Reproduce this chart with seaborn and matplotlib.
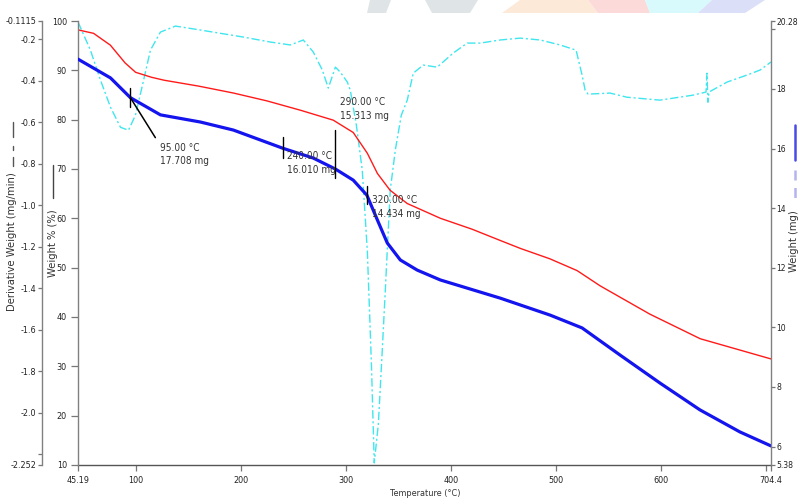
# TGA curve: weight %, weight mg and derivative weight vs temperature

import matplotlib
matplotlib.use("Agg")
import matplotlib.pyplot as plt
import seaborn as sns
from matplotlib import font_manager as fm
from matplotlib.patches import Polygon
from matplotlib.lines import Line2D

# weight % (red, inner left axis)
temp_pct = [45.2, 60, 76, 90, 100, 115, 127, 160, 193, 225, 257, 288, 307, 320.4,
            330, 342, 358.4, 390, 420, 447, 466, 494, 520, 542, 589, 637, 704.4]
weight_pct = [98.2, 97.5, 95.1, 91.5, 89.6, 88.6, 88.0, 86.8, 85.4, 83.8, 81.9, 79.9,
              77.4, 73.2, 69.1, 65.7, 63.0, 60.0, 57.8, 55.5, 53.9, 51.8, 49.4, 46.3,
              40.6, 35.6, 31.5]

# weight mg (blue, right axis)
temp_mg = [45.2, 76.1, 95, 123.6, 161.6, 193, 240, 269, 290, 307, 320, 330, 339.4,
           351.8, 367.9, 389.8, 446.8, 494.3, 524.7, 560.8, 598.8, 636.8, 674.8, 704.4]
weight_mg = [19.00, 18.37, 17.708, 17.13, 16.89, 16.62, 16.01, 15.68, 15.313, 14.94,
             14.434, 13.60, 12.83, 12.26, 11.92, 11.59, 10.98, 10.41, 9.98, 9.07, 8.13,
             7.23, 6.49, 6.02]

# derivative weight (cyan, outer left axis)
temp_deriv = [45.2, 57, 66.6, 76.1, 85.6, 93.2, 99.8, 106.5, 114.1, 123.6, 137.9, 161.6,
              202.5, 228.2, 247.2, 259.5, 269, 277.6, 283.3, 290, 294.7, 301.4, 304.2,
              310, 315.6, 320.4, 324.2, 327, 330.9, 334.6, 337.5, 342.2, 347, 352.7,
              358.4, 364.1, 373.6, 386.9, 402.1, 415.4, 427.8, 446.8, 465.8, 484.8,
              503.8, 519, 521.9, 524.7, 527.6, 530.4, 551.3, 567.5, 598.8, 630.2,
              642.6, 643.5, 644.4, 645.4, 662.6, 681.6, 694, 704.4]
deriv = [-0.116, -0.252, -0.397, -0.527, -0.624, -0.638, -0.566, -0.421, -0.252, -0.165,
         -0.136, -0.155, -0.189, -0.213, -0.227, -0.203, -0.261, -0.348, -0.435, -0.334,
         -0.358, -0.406, -0.445, -0.614, -0.831, -1.218, -1.749, -2.242, -2.054, -1.701,
         -1.411, -0.928, -0.735, -0.566, -0.493, -0.363, -0.324, -0.334, -0.266, -0.218,
         -0.218, -0.203, -0.194, -0.203, -0.227, -0.252, -0.314, -0.372, -0.445, -0.464,
         -0.459, -0.479, -0.493, -0.469, -0.454, -0.363, -0.503, -0.454, -0.406, -0.372,
         -0.348, -0.309]

# annotations on the mg curve
ann_temp = [95, 240, 290, 320]
ann_mg = [17.708, 16.010, 15.313, 14.434]
ann_text = ["95.00 °C\n17.708 mg", "240.00 °C\n16.010 mg",
            "290.00 °C\n15.313 mg", "320.00 °C\n14.434 mg"]

x_ticks = [45.19, 100, 200, 300, 400, 500, 600, 700, 704.4]
x_labels = ["45.19", "100", "200", "300", "400", "500", "600", "", "704.4"]
pct_ticks = [10, 20, 30, 40, 50, 60, 70, 80, 90, 100]
pct_labels = ["10", "20", "30", "40", "50", "60", "70", "80", "90", "100"]
mg_ticks = [5.38, 6, 8, 10, 12, 14, 16, 18, 20, 20.28]
mg_labels = ["5.38", "6", "8", "10", "12", "14", "16", "18", "", "20.28"]
d_ticks = [-0.1115, -0.2, -0.4, -0.6, -0.8, -1.0, -1.2, -1.4, -1.6, -1.8, -2.0, -2.2, -2.252]
d_labels = ["-0.1115", "-0.2", "-0.4", "-0.6", "-0.8", "-1.0", "-1.2", "-1.4", "-1.6",
            "-1.8", "-2.0", "", "-2.252"]

sns.set_style("white")

# the instrument software uses a narrow sans; take one if there is any
narrow = [f for f in fm.fontManager.ttflist
          if any(k in f.fname for k in ("Narrow", "Condensed"))
          and not any(k in f.fname for k in ("Bold", "Italic", "Oblique", "Light", "Semi"))]
if narrow:
    plt.rcParams["font.family"] = [narrow[0].name, "DejaVu Sans"]
    plt.rcParams["font.stretch"] = narrow[0].stretch
    fs_tick, fs_ann, fs_lab = 6.5, 7.2, 8
else:
    plt.rcParams["font.family"] = ["Liberation Sans", "DejaVu Sans"]
    fs_tick, fs_ann, fs_lab = 6.2, 7, 7.3

W, H = 798, 501
fig = plt.figure(figsize=(W / 100, H / 100), dpi=100)
ax = fig.add_axes([78 / W, 1 - 465 / H, (771 - 78) / W, (465 - 21) / H])
ax_pct = ax.twinx()
ax_mg = ax.twinx()

# faint logo watermark along the top edge
marks = [
    ([(370, 0), (391, 0), (386, 13), (367, 13)], "#dfe4e7"),
    ([(425, 0), (478, 0), (470, 13), (432, 13)], "#dfe4e7"),
    ([(520, 0), (588, 0), (598, 13), (502, 13)], "#fde9d8"),
    ([(588, 0), (645, 0), (650, 13), (598, 13)], "#fddada"),
    ([(645, 0), (712, 0), (698, 13), (650, 13)], "#d8fafc"),
    ([(712, 0), (765, 0), (745, 13), (698, 13)], "#dcdff8"),
]
for pts, c in marks:
    fig.patches.append(Polygon([(px / W, 1 - py / H) for px, py in pts], closed=True,
                               transform=fig.transFigure, facecolor=c, edgecolor="none",
                               zorder=0))

sns.lineplot(x=temp_deriv, y=deriv, ax=ax, color="#3fe6ee", linewidth=1.0,
             linestyle=(0, (6, 2, 1.5, 2)), sort=False, estimator=None)
sns.lineplot(x=temp_pct, y=weight_pct, ax=ax_pct, color="#ff1a1a", linewidth=1.0,
             sort=False, estimator=None)
sns.lineplot(x=temp_mg, y=weight_mg, ax=ax_mg, color="#1414ee", linewidth=2.3,
             sort=False, estimator=None)

ax.set_xlim(45.19, 704.4)
ax.set_ylim(-2.252, -0.1115)
ax_pct.set_ylim(10, 100)
ax_mg.set_ylim(5.38, 20.28)

tick_kw = dict(labelcolor="#222222", color="#777777", width=0.9)
ax.set_xticks(x_ticks, x_labels)
ax.tick_params(axis="x", direction="out", length=4, pad=4, bottom=True,
               labelsize=fs_tick, **tick_kw)
ax.set_yticks(d_ticks, d_labels)
ax.tick_params(axis="y", direction="out", length=3, pad=1, left=True,
               labelsize=fs_tick, **tick_kw)
ax.spines["left"].set_position(("axes", -36 / 693))

ax_pct.yaxis.tick_left()
ax_pct.set_yticks(pct_ticks, pct_labels)
ax_pct.tick_params(axis="y", direction="out", length=5, pad=3, left=True, right=False,
                   labelsize=fs_tick, **tick_kw)
ax_mg.set_yticks(mg_ticks, mg_labels)
ax_mg.tick_params(axis="y", direction="out", length=3, pad=1, right=True,
                  labelsize=fs_tick - 0.4, **tick_kw)

for a in (ax, ax_pct, ax_mg):
    a.set_xlabel("")
    a.set_ylabel("")
    for s in a.spines.values():
        s.set_visible(False)
        s.set_color("#808080")
        s.set_linewidth(1.0)
ax.spines["left"].set_visible(True)
ax.spines["bottom"].set_visible(True)
ax.spines["bottom"].set_color("#555555")
ax_pct.spines["left"].set_visible(True)
ax_mg.spines["right"].set_visible(True)

# event markers
offsets = [(30, -45), (4, -3), (5, 72), (5, 0)]
for t, m, txt, off in zip(ann_temp, ann_mg, ann_text, offsets):
    ax_mg.annotate(txt, xy=(t, m), xytext=off, textcoords="offset pixels",
                   fontsize=fs_ann, color="#333333", va="top", ha="left", linespacing=1.45)
ax_mg.annotate("", xy=(ann_temp[0], ann_mg[0]), xytext=(25, -40),
               textcoords="offset pixels",
               arrowprops=dict(arrowstyle="-", color="black", lw=1.1, shrinkA=0, shrinkB=0))
tick_spans = [(0.34, 0.32), (0.37, 0.33), (1.32, 0.30), (0.30, 0.30)]
for t, m, (up, dn) in zip(ann_temp, ann_mg, tick_spans):
    ax_mg.plot([t, t], [m - dn, m + up], color="black", lw=1.0)

# axis titles with their line-style keys
lab_kw = dict(fontsize=fs_lab, color="#333333", ha="center", va="center", rotation=90)
fig.text(12 / W, 1 - 242 / H, "Derivative Weight (mg/min)", **lab_kw)
fig.text(53 / W, 1 - 243 / H, "Weight % (%)", **lab_kw)
fig.text(794 / W, 1 - 241 / H, "Weight (mg)", **lab_kw)
fig.text(425 / W, 1 - 493 / H, "Temperature (°C)", fontsize=fs_tick, color="#333333",
         ha="center", va="center")

def key(x, y0, y1, **kw):
    fig.lines.append(Line2D([x / W, x / W], [1 - y0 / H, 1 - y1 / H],
                            transform=fig.transFigure, **kw))

key(13, 122, 137, color="#555555", lw=1)
key(13, 146, 150, color="#555555", lw=1)
key(13, 157, 166, color="#555555", lw=1)
key(53, 165, 198, color="#444444", lw=1)
key(795, 125, 160, color="#4a4ae6", lw=1.8)
key(795, 170, 203, color="#b4b4f0", lw=1.8, linestyle=(0, (4, 3)))

fig.savefig("out.png", dpi=100)
